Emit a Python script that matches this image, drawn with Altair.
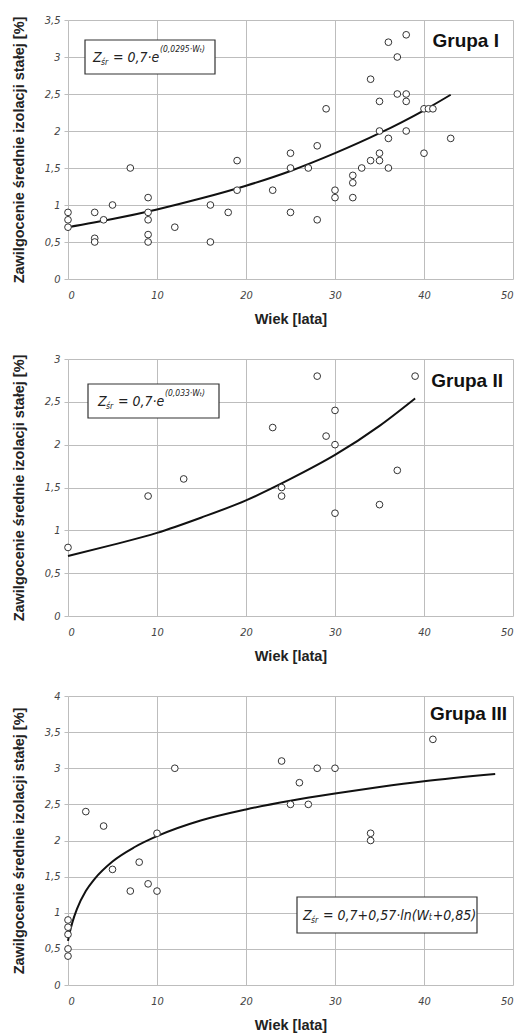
import altair as alt
import pandas as pd

# ---------------- data ----------------
# Grupa I
g1_x = [0, 0, 0, 3, 3, 3, 4, 5, 7, 9, 9, 9, 9, 9, 12, 16, 16, 18, 19, 19, 23,
        25, 25, 25, 27, 28, 28, 29, 30, 30, 32, 32, 32, 33, 34, 34, 35, 35, 35, 35,
        36, 36, 36, 37, 37, 38, 38, 38, 38, 40, 40.5, 41, 40, 43]
g1_y = [0.9, 0.8, 0.7, 0.9, 0.55, 0.5, 0.8, 1.0, 1.5, 1.1, 0.9, 0.8, 0.6, 0.5, 0.7, 1.0, 0.5, 0.9, 1.6, 1.2, 1.2,
        1.7, 1.5, 0.9, 1.5, 1.8, 0.8, 2.3, 1.2, 1.1, 1.4, 1.3, 1.1, 1.5, 2.7, 1.6, 2.4, 2.0, 1.7, 1.6,
        3.2, 1.9, 1.5, 3.0, 2.5, 3.3, 2.5, 2.4, 2.0, 2.3, 2.3, 2.3, 1.7, 1.9]
g1_cx = [0, 5, 10, 15, 20, 25, 30, 35, 40, 43]
g1_cy = [0.70, 0.81, 0.94, 1.09, 1.26, 1.46, 1.70, 1.97, 2.28, 2.49]

# Grupa II
g2_x = [0, 9, 13, 23, 24, 24, 28, 29, 30, 30, 30, 35, 37, 39]
g2_y = [0.8, 1.4, 1.6, 2.2, 1.5, 1.4, 2.8, 2.1, 2.4, 2.0, 1.2, 1.3, 1.7, 2.8]
g2_cx = [0, 5, 10, 15, 20, 25, 30, 35, 39]
g2_cy = [0.70, 0.83, 0.97, 1.15, 1.35, 1.60, 1.88, 2.22, 2.54]

# Grupa III
g3_x = [0, 0, 0, 0, 0, 2, 4, 5, 7, 8, 9, 10, 10, 12, 24, 25, 26, 27, 28, 30, 34, 34, 41]
g3_y = [0.9, 0.8, 0.7, 0.5, 0.4, 2.4, 2.2, 1.6, 1.3, 1.7, 1.4, 2.1, 1.3, 3.0, 3.1, 2.5, 2.8, 2.5, 3.0, 3.0, 2.1, 2.0, 3.4]
g3_cx = [0, 0.2, 0.5, 1, 2, 3, 5, 7.5, 10, 15, 20, 25, 30, 35, 40, 48]
g3_cy = [0.61, 0.73, 0.87, 1.05, 1.30, 1.47, 1.71, 1.91, 2.06, 2.28, 2.43, 2.55, 2.65, 2.74, 2.82, 2.92]

x_ticks = [0, 10, 20, 30, 40, 50]
y_title = "Zawilgocenie średnie izolacji stałej [%]"
x_title = "Wiek [lata]"

LBL_FONT = "DejaVu Sans Condensed"
TTL_FONT = "Liberation Sans"
GRID = "#bdbdbd"
W = 445


def panel(px, py, cx, cy, ymax, height, group, gx, gy, box, pieces):
    pts = pd.DataFrame({"x": px, "y": py})
    crv = pd.DataFrame({"x": cx, "y": cy})
    y_ticks = [v / 2 for v in range(0, int(ymax * 2) + 1)]
    xs = alt.Scale(domain=[0, 50], nice=False)
    ys = alt.Scale(domain=[0, ymax], nice=False)
    xax = alt.Axis(values=x_ticks, title=x_title, grid=True, gridColor=GRID, domain=False,
                   ticks=False, labelPadding=10, labelFont=LBL_FONT, labelFontStyle="italic",
                   labelFontSize=11, labelColor="#444", labelOverlap=False,
                   titleFont=TTL_FONT, titleFontSize=14.5,
                   titleFontWeight="bold", titleColor="#222", titlePadding=12,
                   labelExpr="replace(toString(datum.value), '.', ',')")
    yax = alt.Axis(values=y_ticks, title=y_title, grid=True, gridColor=GRID, domain=False,
                   ticks=True, tickColor=GRID, tickSize=4, labelPadding=4, labelFont=LBL_FONT,
                   labelFontStyle="italic", labelFontSize=11, labelColor="#444",
                   labelOverlap=False,
                   titleFont=TTL_FONT, titleFontSize=14.5, titleFontWeight="bold",
                   titleColor="#222", titlePadding=18,
                   labelExpr="replace(toString(datum.value), '.', ',')")
    line = alt.Chart(crv).mark_line(color="#111", strokeWidth=2, interpolate="monotone").encode(
        x=alt.X("x:Q", scale=xs, axis=xax),
        y=alt.Y("y:Q", scale=ys, axis=yax),
    )
    base_pts = alt.Chart(pts).mark_point(filled=False, size=45, stroke="#333", strokeWidth=1,
                                         fill="white", fillOpacity=1).encode(
        x=alt.X("x:Q", scale=xs, axis=xax),
        y=alt.Y("y:Q", scale=ys, axis=yax),
    )
    bx0, by0, bx1, by1 = box
    rect = alt.Chart(pd.DataFrame({"a": [0]})).mark_rect(
        fill="white", stroke="#333", strokeWidth=1.2).encode(
        x=alt.value(bx0), x2=alt.value(bx1), y=alt.value(by0), y2=alt.value(by1))
    layers = [line, base_pts, rect]
    for (t, tx, ty, fs) in pieces:
        layers.append(alt.Chart(pd.DataFrame({"a": [0]})).mark_text(
            text=t, align="left", baseline="alphabetic", font=LBL_FONT, fontStyle="italic",
            fontSize=fs, color="#222").encode(x=alt.value(tx), y=alt.value(ty)))
    layers.append(alt.Chart(pd.DataFrame({"a": [0]})).mark_text(
        text=group, align="right", baseline="middle", font=TTL_FONT, fontWeight="bold",
        fontSize=19, color="#111").encode(x=alt.value(gx), y=alt.value(gy)))
    return alt.layer(*layers).properties(width=W, height=height)


p1 = panel(g1_x, g1_y, g1_cx, g1_cy, 3.5, 259, "Grupa I", 431, 21,
           (17, 20, 147, 54),
           [("Z", 25, 42, 14), ("śr", 33, 45, 8.5), ("= 0,7·e", 45, 42, 14), ("(0,0295·Wₜ)", 92, 32, 8.5)])
p2 = panel(g2_x, g2_y, g2_cx, g2_cy, 3.0, 257, "Grupa II", 435, 22,
           (20, 25, 151, 59),
           [("Z", 30, 47, 14), ("śr", 38, 50, 8.5), ("= 0,7·e", 50, 47, 14), ("(0,033·Wₜ)", 97, 37, 8.5)])
p3 = panel(g3_x, g3_y, g3_cx, g3_cy, 4.0, 289, "Grupa III", 439, 18,
           (229, 201, 409, 237),
           [("Z", 235, 224, 14), ("śr", 243, 227, 8.5), ("= 0,7+0,57·ln(Wₜ+0,85)", 255, 224, 14)])

chart = alt.vconcat(p1, p2, p3, spacing=27).properties(
    padding={"left": 3, "top": 6, "right": 5, "bottom": 5}
).configure_view(stroke=None)

chart.save("out.html", embed_options={"renderer": "svg", "actions": False})
